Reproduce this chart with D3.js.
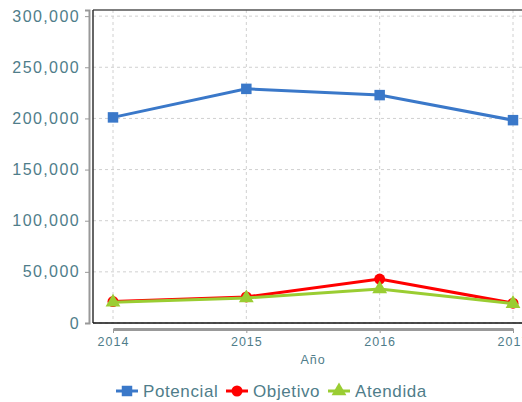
<!DOCTYPE html>
<html>
<head>
<meta charset="utf-8">
<script src="https://cdn.jsdelivr.net/npm/d3@7"></script>
<style>
  body { margin: 0; background: #fff; }
  text { font-family: "Liberation Sans", Arial, sans-serif; fill: #4f7d8a; }
</style>
</head>
<body>
<svg id="chart"></svg>
<script>
const years = [2014, 2015, 2016, 2017];
const potencial = [201000, 228900, 222800, 198300];
const objetivo = [21000, 25500, 42900, 19400];
const atendida = [20300, 24500, 33200, 18900];
const yTicks = [0, 50000, 100000, 150000, 200000, 250000, 300000];

const width = 522, height = 402;
const margin = { top: 10, right: -11, bottom: 79, left: 93 };
const innerW = width - margin.left - margin.right;
const innerH = height - margin.top - margin.bottom;

const svg = d3.select("#chart")
  .attr("width", width)
  .attr("height", height);

const g = svg.append("g")
  .attr("transform", `translate(${margin.left}, ${margin.top})`);

// scales
const x = d3.scalePoint()
  .domain(years)
  .range([20, innerW - 20]);

const y = d3.scaleLinear()
  .domain([0, 306000])
  .range([innerH, 0]);

// grid
g.selectAll(".hgrid")
  .data(yTicks)
  .enter()
  .append("line")
  .attr("x1", 0).attr("x2", innerW)
  .attr("y1", d => y(d)).attr("y2", d => y(d))
  .attr("stroke", "#d0d0d0")
  .attr("stroke-dasharray", "3,3");

g.selectAll(".vgrid")
  .data(years)
  .enter()
  .append("line")
  .attr("x1", d => x(d)).attr("x2", d => x(d))
  .attr("y1", 0).attr("y2", innerH)
  .attr("stroke", "#d0d0d0")
  .attr("stroke-dasharray", "3,3");

// frame
g.append("line").attr("x1", 0).attr("x2", innerW).attr("y1", 0).attr("y2", 0)
  .attr("stroke", "#555").attr("stroke-width", 1.5);
g.append("line").attr("x1", 0).attr("x2", 0).attr("y1", 0).attr("y2", innerH)
  .attr("stroke", "#333").attr("stroke-width", 1.5);
g.append("line").attr("x1", 0).attr("x2", innerW).attr("y1", innerH).attr("y2", innerH)
  .attr("stroke", "#111").attr("stroke-width", 1.5);

// y axis
const yAxis = g.append("g")
  .attr("transform", "translate(-4,0)")
  .call(d3.axisLeft(y).tickValues(yTicks).tickFormat(d3.format(",")).tickSize(4).tickPadding(5));
yAxis.select(".domain").attr("stroke", "#999").attr("stroke-width", 2);
yAxis.selectAll(".tick line").attr("stroke", "#999");
yAxis.selectAll("text")
  .style("font-size", "16px")
  .style("letter-spacing", "1.4px")
  .attr("fill", "#4f7d8a");

// x axis
const xAxis = g.append("g")
  .attr("transform", `translate(0, ${innerH + 6})`)
  .call(d3.axisBottom(x).tickSize(4).tickPadding(4).tickSizeOuter(0));
xAxis.select(".domain").attr("stroke", "#999").attr("stroke-width", 3);
xAxis.selectAll(".tick line").attr("stroke", "#999");
xAxis.selectAll("text")
  .style("font-size", "12.5px")
  .style("letter-spacing", "1px")
  .attr("fill", "#4f7d8a");

// x-axis label
g.append("text")
  .attr("x", innerW / 2)
  .attr("y", innerH + 41)
  .style("text-anchor", "middle")
  .style("font-size", "12.5px")
  .style("letter-spacing", "1px")
  .text("Año");

const series = [
  { name: "Potencial", values: potencial, color: "#3a78c9", shape: d3.symbolSquare, size: 110 },
  { name: "Objetivo", values: objetivo, color: "#ff0000", shape: d3.symbolCircle, size: 95 },
  { name: "Atendida", values: atendida, color: "#9acd32", shape: d3.symbolTriangle, size: 95 }
];

const line = d3.line()
  .x((d, i) => x(years[i]))
  .y(d => y(d));

series.forEach(s => {
  g.append("path")
    .datum(s.values)
    .attr("fill", "none")
    .attr("stroke", s.color)
    .attr("stroke-width", 3)
    .attr("d", line);

  g.selectAll(".pt-" + s.name)
    .data(s.values)
    .enter()
    .append("path")
    .attr("d", d3.symbol().type(s.shape).size(s.size))
    .attr("transform", (d, i) => `translate(${x(years[i])}, ${y(d)})`)
    .attr("fill", s.color);
});

// legend
const legendX = [116, 226, 328];
const legend = svg.append("g").attr("transform", "translate(0, 391)");
series.forEach((s, i) => {
  const lg = legend.append("g").attr("transform", `translate(${legendX[i]}, 0)`);
  lg.append("line")
    .attr("x1", 0).attr("x2", 22)
    .attr("stroke", s.color).attr("stroke-width", 3);
  lg.append("path")
    .attr("d", d3.symbol().type(s.shape).size(s.size))
    .attr("transform", "translate(11, 0)")
    .attr("fill", s.color);
  lg.append("text")
    .attr("x", 27)
    .attr("y", 6)
    .style("font-size", "17px")
    .style("letter-spacing", "0.6px")
    .text(s.name);
});
</script>
</body>
</html>
